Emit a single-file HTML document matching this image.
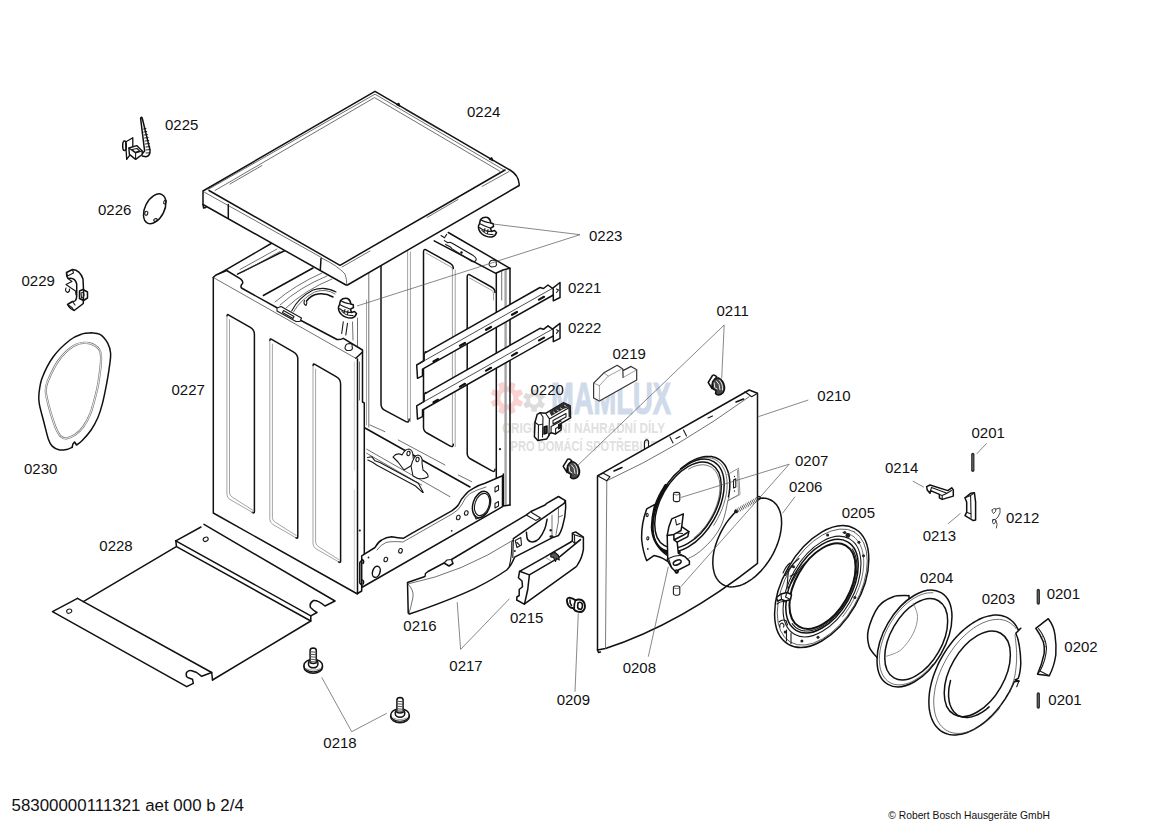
<!DOCTYPE html>
<html lang="cs">
<head>
<meta charset="utf-8">
<title>58300000111321 aet 000 b 2/4</title>
<style>
html,body{margin:0;padding:0;background:#fff;}
body{width:1170px;height:828px;overflow:hidden;position:relative;font-family:"Liberation Sans",sans-serif;}
svg{position:absolute;left:0;top:0;display:block;}
.lb{font-family:"Liberation Sans",sans-serif;font-size:15px;fill:#111;}
.k{fill:none;stroke:#111;stroke-width:1.5;stroke-linejoin:round;stroke-linecap:round;}
.m{fill:none;stroke:#1a1a1a;stroke-width:1.1;stroke-linejoin:round;stroke-linecap:round;}
.t{fill:none;stroke:#333;stroke-width:0.7;stroke-linejoin:round;stroke-linecap:round;}
.g{fill:none;stroke:#8a8a8a;stroke-width:0.8;stroke-linejoin:round;stroke-linecap:round;}
.ld{fill:none;stroke:#555;stroke-width:0.7;}
.w{fill:#fff;}
</style>
</head>
<body>
<svg width="1170" height="828" viewBox="0 0 1170 828">
<rect width="1170" height="828" fill="#fff"/>
<!-- WATERMARK -->
<g id="wm">
<path d="M518.4,399.3 L523.1,401.7 L521,406.8 L516,405.2 L514.1,407.1 L515.7,412.1 L510.6,414.2 L508.2,409.5 L505.6,409.5 L503.2,414.2 L498.1,412.1 L499.7,407.1 L497.8,405.2 L492.8,406.8 L490.7,401.7 L495.4,399.3 L495.4,396.7 L490.7,394.3 L492.8,389.2 L497.8,390.8 L499.7,388.9 L498.1,383.9 L503.2,381.8 L505.6,386.5 L508.2,386.5 L510.6,381.8 L515.7,383.9 L514.1,388.9 L516,390.8 L521,389.2 L523.1,394.3 L518.4,396.7Z M513.5,398 A6.6,6.6 0 1 0 500.3,398 A6.6,6.6 0 1 0 513.5,398Z" fill="#f9d2d2" fill-rule="evenodd"/>
<path d="M541.9,401.8 L545.1,404 L542.5,408.4 L539,406.8 L537,408 L536.7,411.8 L531.5,411.8 L531.2,408 L529.2,406.8 L525.7,408.4 L523.1,404 L526.3,401.8 L526.3,399.4 L523.1,397.2 L525.7,392.8 L529.2,394.4 L531.2,393.2 L531.5,389.4 L536.7,389.4 L537,393.2 L539,394.4 L542.5,392.8 L545.1,397.2 L541.9,399.4Z M538.3,400.6 A4.2,4.2 0 1 0 529.9,400.6 A4.2,4.2 0 1 0 538.3,400.6Z" fill="#dcdcdc" fill-rule="evenodd"/>
<text x="551" y="414.3" font-family="Liberation Sans, sans-serif" font-weight="bold" font-size="43.5" fill="#cfdaea" stroke="#cfdaea" stroke-width="1.1" textLength="120" lengthAdjust="spacingAndGlyphs">MAMLUX</text>
<text x="502" y="433.4" font-family="Liberation Sans, sans-serif" font-weight="bold" font-size="14.6" fill="#dfdfdf" textLength="163" lengthAdjust="spacingAndGlyphs">ORIGINÁLNÍ NÁHRADNÍ DÍLY</text>
<text x="510.5" y="450.6" font-family="Liberation Sans, sans-serif" font-weight="bold" font-size="14.6" fill="#dfdfdf" textLength="147.5" lengthAdjust="spacingAndGlyphs">PRO DOMÁCÍ SPOTŘEBIČE</text>
</g>
<!-- 0227 cabinet -->
<g id="p0227">
<path class="k" d="M448.3,232.5 L510,268.3 M434.2,240.8 L495.8,273.3 L503,270 L510,268.3" />
<path class="k" d="M496.3,273.3 L496.3,478 M510,268.3 L510,505" />
<path class="t" d="M501.7,271 L501.7,300" />
<path class="g" d="M505.6,270 L505.6,505" style="stroke-width:2.4;stroke:#a4a4a4;stroke-linecap:butt"/>
<path class="t" d="M368.8,268 L368.8,427" />
<path class="g" d="M366.5,300 L366.5,425" />
<path class="k" d="M381,266 L381,404 Q381,408.3 384.5,410.2 L405.5,421.4 Q409.2,423.3 409.2,419" />
<path class="g" d="M407.6,250 L407.6,420 M410.4,252 L410.4,421.5" style="stroke-width:0.55;stroke:#555"/>
<path class="k" d="M453.3,268.6 Q453.3,265.1 449.8,263.2 L427,250.3 Q423.5,248.3 423.5,251.8 L423.5,427.5 Q423.5,431 427,433 L449.8,445.9 Q453.3,447.8 453.3,444.3" />
<path class="g" d="M452.4,268 L452.4,445 M455.2,270 L455.2,446.5" style="stroke-width:0.55;stroke:#555"/>
<path class="g" d="M426,253 L451,267 Q452.6,268 452.6,270" />
<path class="k" d="M495,292.5 Q495,289 491.5,287 L470.7,275.3 Q467.2,273.3 467.2,276.8 L467.2,453.5 Q467.2,457 470.7,459 L491.5,470.7 Q495,472.7 495,469.2" />
<path class="g" d="M469.5,278 L492,290.5 Q493.5,291.5 493.5,294 L493.5,300" />
<path class="k" d="M503.3,474 L503.3,506 L510,505" />
<path class="m" d="M441,235.5 L444.5,237.8 L446.7,234.4 M444.4,240.6 L447.8,242.8 L450,242.2 L452.2,243.3 L473.3,255.6 Q477,258 476.1,259.8 Q475.5,262.3 472,261.5 L452.2,248.9 L450,246.7 L445.6,244.4" />
<circle cx="461.5" cy="252.5" r="1.2" fill="#111"/>
<path class="m" d="M489.5,262.5 Q488,265.5 491.5,267 L495,266.5 Q497.5,265 496,263 Q497.5,260.5 494,260 Q490,260 489.5,262.5 Z" />
<path class="k" d="M365,428 L470,487" />
<path class="t" d="M370,425 L385,431.7 M398.3,440 L445,465 M458.3,475 L471.7,481.7" />
<path class="t" d="M366.7,449.2 L450,496.7 M366.7,453.3 L421.7,485" />
<path class="m" d="M367.5,457.5 L371.7,456.7 L375,460.8 L380,462.5 L418.3,483.3 L423.3,492.5 M367.8,460 L372.5,462.3 L377,465.3 L415.5,486 L422.5,492.3" />
<circle cx="500" cy="449.2" r="1.1" fill="#222"/>
<path class="m w" d="M393,457 Q397,452 402,455 Q405,449 409,449 Q413,450 413,456 L414,464 L404,470 L398,462 Z" />
<path class="m w" d="M411,466 Q414,455 418,455 Q423,456 422,463 L423,470 Q429,474 428,477 Q420,481 413,476 Z" />
<ellipse class="m" cx="408.5" cy="453.5" rx="1.6" ry="2.2" transform="rotate(10 408.5 453.5)" />
<ellipse class="m" cx="417.5" cy="459.5" rx="1.6" ry="2.2" transform="rotate(10 417.5 459.5)" />
<path class="k" d="M214.2,276.7 L272,243" />
<path class="k" d="M237.5,274.2 L286,250" />
<path class="k" d="M263.3,295.5 L313,268" />
<path class="t" d="M217,277 L226,271.5 M240,269.5 L277,249 M243,272 L280,251.5" />
<path class="t" d="M275,302 Q295,285 322,273 M280,305 Q300,287 327,276 M286,308 Q305,290 332,279" />
<path class="m" d="M291.7,311 Q298,298 313,290 Q325,286 336,292" />
<path class="t" d="M293.5,312 Q300,300 314.5,292 Q326,288 335,294" />
<path class="k" d="M306.5,301 Q311,295 318,294 Q326,293 333,297" />
<path class="m" d="M304.5,300.5 Q303,304 306,305.5 Q307.5,303 306.5,301" />
<path class="m" d="M343.3,321.7 L341.7,333.5 M347.5,323.3 L345.8,335" />
<path class="t" d="M357.5,318 L357.5,348 M352.5,322 L353,340" />
<g transform="translate(346 308)">
<path class="k w" d="M-6.5,-3.5 L-5.5,-7.5 Q-2.5,-10.5 1.5,-9.5 Q4.5,-8 4.8,-4 L7.2,-3.3 L7.5,-0.5 L4.5,1.2 L5.5,4.5 L8.5,3.5 L10.5,5.5 Q9.5,9 6,10 Q0,10.5 -4.5,6.5 Q-8,3 -7.5,-1 Z" />
<path class="m" d="M-5.5,-7.5 Q-2,-5 4.8,-4 M-6.5,-3.5 Q-2,-1 4.5,1.2 M-6.5,0.5 Q-2,4.5 5.5,4.5 M-4,3.5 Q0,8 7,7.5 M-1,1.5 L-2,5 M2,2.5 L1.5,6.5" />
</g>
<path d="M213.3,277.5 L355.8,358.3 L357.5,359 L357.5,594 L213.3,513 Z" fill="#fff"/>
<path class="k" d="M213.3,277.5 L213.3,513 L357.5,594 L357.5,359" />
<path d="M226.7,270.5 L240.5,278.8 Q243.5,281 242.5,283.5 Q240,286 241.5,288 L245,290 L278.3,308.5 L337,339.5 Q340,340 343.3,338.3 L362.5,350 L362.5,352 L355.8,358.3 L213.3,277.5 L216,275 Z" fill="#fff"/>
<path class="k" d="M213.3,277.5 L216,275 L226.7,270.5 L240.5,278.8 Q243.5,281 242.5,283.5 Q240,286 241.5,288 L245,290 L278.3,308.5 L337,339.5 Q340,340 343.3,338.3 L362.5,350 L362.5,352 L355.8,358.3" />
<path class="t" d="M213.3,277.5 L355.8,358.3" />
<path class="m w" d="M277,308 L281,306.5 L301.5,318 L300,321.5 L296,321.5 L277,311 Z" />
<path class="m" d="M283.5,310.5 L294,316.5 L293,318.5 L282.5,312.5 Z" />
<path class="m" d="M345.5,346 Q344,349 347,350.5 L350.5,350.5 Q353.5,349 352,346.5 Q353,344 350,343.5 Q346,343.5 345.5,346 Z" />
<path class="k" d="M227,316.1 Q227,313.6 229.2,315.3 L249.9,327.2 Q254.4,329.8 254.4,334.3 L254.4,511.7 Q254.4,513.7 252.4,512.4" />
<path class="g" d="M226.9,317.1 L226.9,494.2 Q226.9,497.6 229.9,499.4 L252.9,512.7" style="stroke-width:0.6;stroke:#666"/>
<path class="g" d="M229.5,319.7 L229.5,492.6 Q229.5,495.6 232.5,497.3 L252.9,510.3" style="stroke-width:0.6;stroke:#666"/>
<path class="k" d="M269.9,340.5 Q269.9,338 272.1,339.7 L293.3,351.9 Q297.8,354.5 297.8,359 L297.8,537 Q297.8,539 295.8,537.7" />
<path class="g" d="M269.8,341.5 L269.8,519.2 Q269.8,522.6 272.8,524.4 L296.3,538" style="stroke-width:0.6;stroke:#666"/>
<path class="g" d="M272.4,344.1 L272.4,517.6 Q272.4,520.6 275.4,522.3 L296.3,535.6" style="stroke-width:0.6;stroke:#666"/>
<path class="k" d="M313.1,365.5 Q313.1,363 315.3,364.7 L336.1,376.7 Q340.6,379.3 340.6,383.8 L340.6,561.2 Q340.6,563.2 338.6,561.9" />
<path class="g" d="M313,366.5 L313,543.6 Q313,547 316,548.8 L339.1,562.1" style="stroke-width:0.6;stroke:#666"/>
<path class="g" d="M315.6,369.1 L315.6,542 Q315.6,545 318.6,546.7 L339.1,559.8" style="stroke-width:0.6;stroke:#666"/>
<path class="g" d="M354.3,362 L354.3,470 M354.3,490 L354.3,590" style="stroke-width:0.5;stroke:#999"/>
<path class="k" d="M362.5,352 L362.5,402 L364.3,403 L364.3,556" />
<path class="k" d="M357.5,593.5 L361.7,591 L361.7,587.5" />
<path class="t" d="M359.5,362 L359.5,400" />
<circle cx="359.8" cy="530.5" r="1.1" fill="#222"/>
<path class="k w" d="M361.7,555.8 L375,547.5 Q378,542 381.7,540 Q386,537 391.7,536.7 Q398,538 403.3,538.3 L411.7,533.3 L451.7,510.8 Q456,508 458.3,505 Q461,499 465,495 Q468,491 473.3,488.3 Q479,485 485,483.3 L502.5,475.8 L502.5,506.7 L361.7,587.5 Z" />
<path class="t" d="M377,550 Q381,544.5 386,542.5 Q392,541 403,542 L452,514 Q459,510 461.5,505 Q465,497 470,493.5 Q476,490 486,487" />
<ellipse class="k" cx="481.5" cy="504.5" rx="8.5" ry="13.5" transform="rotate(18 481.5 504.5)" />
<ellipse class="m" cx="482" cy="504.5" rx="7" ry="11.5" transform="rotate(18 482 504.5)" />
<path class="m" d="M474,514 L476,519 L479,518 M482,517.5 L484,515" />
<ellipse class="m" cx="458.3" cy="517.5" rx="1.8" ry="2.3" transform="rotate(15 458.3 517.5)" />
<ellipse class="m" cx="466.3" cy="513" rx="1.8" ry="2.3" transform="rotate(15 466.3 513)" />
<ellipse class="m" cx="400.5" cy="550.8" rx="1.8" ry="2.3" transform="rotate(15 400.5 550.8)" />
<ellipse class="m" cx="385.8" cy="559.5" rx="1.8" ry="2.3" transform="rotate(15 385.8 559.5)" />
<ellipse class="k" cx="376.3" cy="571.8" rx="3.7" ry="5.7" transform="rotate(18 376.3 571.8)" />
<circle cx="451.7" cy="530.8" r="0.9" fill="#222"/><circle cx="368.5" cy="557.5" r="0.9" fill="#222"/>
<path class="m" d="M495,487.5 L498.5,485.5 L498.5,490 L495,492 Z M495,503.5 L498.5,501.5 L498.5,506 L495,508 Z" />
<path class="k" d="M362,560 L359.8,562.5 L359.8,583 L362,585.5 M362.5,559.5 Q364.5,561 363,563.5 M362.5,580 Q364.5,581.5 363,584" />
<g transform="translate(486 227)">
<path class="k w" d="M-6.5,-3.5 L-5.5,-7.5 Q-2.5,-10.5 1.5,-9.5 Q4.5,-8 4.8,-4 L7.2,-3.3 L7.5,-0.5 L4.5,1.2 L5.5,4.5 L8.5,3.5 L10.5,5.5 Q9.5,9 6,10 Q0,10.5 -4.5,6.5 Q-8,3 -7.5,-1 Z" />
<path class="m" d="M-5.5,-7.5 Q-2,-5 4.8,-4 M-6.5,-3.5 Q-2,-1 4.5,1.2 M-6.5,0.5 Q-2,4.5 5.5,4.5 M-4,3.5 Q0,8 7,7.5 M-1,1.5 L-2,5 M2,2.5 L1.5,6.5" />
</g>
</g>
<!-- 0224 lid -->
<g id="p0224">
<path class="k w" d="M203,191 L375,91.3 L510,170 Q518.5,175 519.2,184 L519.2,185.5 L347.5,285 L346,285 L203,204.5 Z"/>
<path class="k" d="M209,190.5 L340,265.3 L505,170"/>
<path class="k" d="M228.3,204.5 L228.3,218 M321,258.5 L320.3,270"/>
<path class="t" d="M321.5,258 Q338,266 345,274 Q347,279 346.8,285"/>
<path class="t" d="M204.5,192.3 L321.5,257.5"/>
<path class="t" d="M208,189.5 L375,94.2 L505,170.6"/>
<path class="t" d="M215,190.5 L374.5,97.6 L500,171.3"/>
<path class="t" d="M342,267 L370,251 M427,217.5 L458,199.5 M482,186.5 L509,171.5"/>
<path class="t" d="M230,184 L262,165.5 M405,109.5 L440,130"/>
<path class="k" d="M203,204.5 L203.6,208 L206,207.5"/>
<path d="M396,104.5 L399,103 L400,106.5 Z M489,159 L492,157.5 L493,161 Z" fill="#111" stroke="#111" stroke-width="0.8"/>
</g>
<!-- 0221 / 0222 rails -->
<g id="p0221">
<g transform="translate(0 0)">
<path class="k w" d="M424.2,353.3 L540,287.5 L543.5,288.5 L548,285 L552.5,288.3 L560,282.5 L560,297.5 L553.3,300.8 L553.3,295 L422.5,369.2 L422.5,375.8 L417.5,378.3 L416.7,365 L424.2,360.5 Z" />
<path class="t" d="M416.7,365 L552.5,288.3" style="stroke:#222;stroke-width:0.8"/>
<path class="k" d="M553.2,288.7 L553.2,295" />
<path class="t" d="M424.2,360.5 L424.2,353.3" />
<path class="m" d="M556.5,289 L558.5,290 L556.5,292.5" />
<path class="k" d="M433.5,361.5 L438,359 M460,345.8 L465,343 M486,329.8 L491,327 M512,314.8 L517,312 M539,299.6 L544,296.8" style="stroke-width:2.2"/>
<circle cx="425.5" cy="352" r="1" fill="#111"/>
</g>
<g transform="translate(0 40.8)">
<path class="k w" d="M424.2,353.3 L540,287.5 L543.5,288.5 L548,285 L552.5,288.3 L560,282.5 L560,297.5 L553.3,300.8 L553.3,295 L422.5,369.2 L422.5,375.8 L417.5,378.3 L416.7,365 L424.2,360.5 Z" />
<path class="t" d="M416.7,365 L552.5,288.3" style="stroke:#222;stroke-width:0.8"/>
<path class="k" d="M553.2,288.7 L553.2,295" />
<path class="t" d="M424.2,360.5 L424.2,353.3" />
<path class="m" d="M556.5,289 L558.5,290 L556.5,292.5" />
<path class="k" d="M433.5,361.5 L438,359 M460,345.8 L465,343 M486,329.8 L491,327 M512,314.8 L517,312 M539,299.6 L544,296.8" style="stroke-width:2.2"/>
<circle cx="425.5" cy="352" r="1" fill="#111"/>
</g>
</g>
<!-- 0228 base plate -->
<g id="p0228">
<path class="k" d="M201,527 L175.8,540.8 M204,524.4 L335,601 L325,606 Q318,600 313.5,600.5 Q309,603 310.5,607.5 Q314,611 317,612.5 L310.8,615.8" />
<path class="k" d="M175.8,540.8 L310.8,615.8 L310.8,621" />
<path class="k" d="M175.8,540.8 L176.5,546.7 L310.8,621 L212.5,680 M176.3,546.7 L83.3,601.7" />
<path class="k" d="M77.5,598.3 L52.5,611.7 L186.7,686.7 L193.3,683.3 L192.5,679.2 Q187.5,678 186.7,676.7 Q185.5,673.5 187,672 Q189,670 191.7,670.8 L196.7,672.5 L201.7,676.3 L211.7,672.5" />
<path class="k" d="M77.5,598.3 L211.7,672.5 L212.5,680" />
<ellipse class="m" cx="205.7" cy="539.3" rx="2.6" ry="2" transform="rotate(-30 205.7 539.3)" />
<ellipse class="m" cx="69.2" cy="611.2" rx="2.6" ry="2" transform="rotate(-20 69.2 611.2)" />
</g>
<!-- 0230 gasket -->
<g id="p0230">
<path class="k" d="M91.1,332.8 C92.6,333.1 97.2,332.6 100,334.4 C102.8,336.1 106,340.1 107.8,343.3 C109.6,346.5 110.3,349.4 110.6,353.3 C110.9,357.2 110.1,361.7 109.4,366.7 C108.8,371.7 107.9,377 106.7,383.3 C105.5,389.6 103.7,398.6 102.2,404.4 C100.7,410.1 99.7,413.5 97.8,417.8 C95.9,422.1 93.7,426.2 91.1,430 C88.5,433.8 84.6,438.1 82.2,440.6 C79.8,443.1 77.5,444.3 76.5,445 L74.6,442 L72.9,444 L72.2,447.2" />
<path class="k" d="M72.2,447.2 C71.3,447.6 68.9,449 66.7,449.4 C64.5,449.8 61.3,450.4 58.9,449.8 C56.5,449.2 54,447.9 52.2,446.1 C50.4,444.3 49.7,442.9 48.3,438.9 C46.9,434.9 45.4,427.9 43.9,422.2 C42.4,416.4 40.2,409 39.4,404.4 C38.6,399.8 38.4,398.8 38.9,394.4 C39.4,390 39.8,384.1 42.2,377.8 C44.6,371.5 48.7,363 53.3,356.7 C57.9,350.4 65.2,343.8 70,340 C74.8,336.2 78.7,335.1 82.2,333.9 C85.7,332.7 89.6,333 91.1,332.8" />
<path class="g" d="M86.7,342.8 C90.8,343.1 95.4,345.3 97.8,347.8 C100.2,350.3 101,351.9 101.1,357.8 C101.2,363.7 99.4,376.3 98.3,383.3 C97.2,390.3 95.8,394.8 94.4,400 C93,405.2 91.8,409.9 90,414.4 C88.2,418.8 85.7,423.4 83.3,426.7 C80.9,430 78.4,432.5 75.6,434.4 C72.8,436.3 69.1,437.9 66.7,438.3 C64.3,438.7 62.8,438.1 61.1,436.7 C59.4,435.3 58,432.6 56.7,430 C55.4,427.4 54.8,425.7 53.3,421.1 C51.8,416.5 49,407.2 47.8,402.2 C46.5,397.2 45.8,394.6 45.8,391.1 C45.8,387.6 45.6,386.3 47.8,381.1 C50,375.9 54.6,365.8 58.9,360 C63.1,354.2 68.7,349 73.3,346.1 C77.9,343.2 82.6,342.5 86.7,342.8Z" style="stroke-width:2.2;stroke:#777"/>
<path class="g" d="M86.7,342.8 C90.8,343.1 95.4,345.3 97.8,347.8 C100.2,350.3 101,351.9 101.1,357.8 C101.2,363.7 99.4,376.3 98.3,383.3 C97.2,390.3 95.8,394.8 94.4,400 C93,405.2 91.8,409.9 90,414.4 C88.2,418.8 85.7,423.4 83.3,426.7 C80.9,430 78.4,432.5 75.6,434.4 C72.8,436.3 69.1,437.9 66.7,438.3 C64.3,438.7 62.8,438.1 61.1,436.7 C59.4,435.3 58,432.6 56.7,430 C55.4,427.4 54.8,425.7 53.3,421.1 C51.8,416.5 49,407.2 47.8,402.2 C46.5,397.2 45.8,394.6 45.8,391.1 C45.8,387.6 45.6,386.3 47.8,381.1 C50,375.9 54.6,365.8 58.9,360 C63.1,354.2 68.7,349 73.3,346.1 C77.9,343.2 82.6,342.5 86.7,342.8Z" style="stroke-width:0.9;stroke:#fff"/>
</g>
<!-- small parts left: 0225 0226 0229 0218 -->
<g id="small_left">
<path class="k" d="M125.6,142 L132.8,137.8 L132.8,151 L126.7,159.4 Z" style="stroke-width:1.3"/>
<ellipse class="k" cx="124.5" cy="145.8" rx="1.8" ry="4.8" transform="rotate(0 124.5 145.8)" />
<path class="k w" d="M128.9,148 L136.7,145.6 L142.2,151 L142.2,154.5 L135.6,159.4 L129.4,154.4 Z" style="stroke-width:1.4"/>
<path class="m" d="M128.9,148 L135.6,153 L142.2,151 M135.6,153 L135.6,159.4 M132,149.5 L137,148.5 L139.5,151 L135,152.2 Z" />
<path class="k" d="M140.6,118.3 Q141.3,116.5 142.2,118 L150,150 Q150.5,156 146,156.8 L142.2,156 M140.6,118.3 L144.6,151 L142.5,153.5" />
<path class="t" d="M143.5,129 L146,128.5 M143.8,132 L146.7,131.5 M144.2,135 L147.4,134.5 M144.6,138 L148.1,137.5 M145,141 L148.8,140.5 M145.4,144 L149.3,143.5 M145.8,147 L149.8,146.5 M146,150 L150,149.5 M146,153 L149.6,152.8" style="stroke:#111;stroke-width:0.9"/>
<ellipse class="k" cx="154.7" cy="208.8" rx="9.6" ry="16" transform="rotate(27 154.7 208.8)" />
<ellipse class="m" cx="165" cy="202" rx="1.2" ry="2" transform="rotate(20 165 202)" />
<ellipse class="m" cx="146.3" cy="213.3" rx="1.5" ry="2" transform="rotate(20 146.3 213.3)" />
<ellipse class="m" cx="155.5" cy="220" rx="1.8" ry="1.3" transform="rotate(-20 155.5 220)" />
<path class="k" d="M66.5,272.5 L72.5,269.5 Q80,270 83,279 Q84,290 83.3,303.5 L74.2,310.5 Q70,309 67.5,304.5 L72.5,301.5 Q76.5,302 76.7,296 L76.7,284 Q75,277 68,278.5 L66.7,275.8 Z" />
<path class="m" d="M66.5,272.5 L67.5,276 L73.5,273 L72.5,269.5 M67.5,304.5 L72,307.5 L74.2,310.5 M72.5,301.5 L75,305 M68,278.5 L72,281.5 L66,284.5 L71,288 M66,288 Q64.5,291 67.5,292.5 Q70,291.5 69.5,289 M71,288 L75.5,291 L76,295" />
<path class="k" d="M79.5,291 L83,289.5 L87.5,292 L87.5,298 L83.5,300.5 L79.5,298.5 Z" />
<path class="m" d="M81,293 Q83.5,291.5 84,294.5 Q84,298 81.5,298 Z" />
<g transform="translate(313.2 667.3)">
<path class="k w" d="M-9.3,-1.7 A9.3,6.3 0 0 1 9.3,-1.7 L9.3,-0.3 A9.3,6.3 0 0 1 -9.3,-0.3 Z" />
<path class="m" d="M-9.3,-1.7 A9.3,6.3 0 0 0 9.3,-1.7" />
<path class="t" d="M-6.5,1.5 Q0,4.5 6.5,1.5" style="stroke:#777"/>
<path class="k w" d="M-4.7,-4.2 A4.7,3.5 0 0 1 4.7,-4.2 L4.7,-3 A4.7,3.5 0 0 1 -4.7,-3 Z" />
<path class="k w" d="M-3.1,-4.5 L-3.1,-16.8 Q-3,-19.1 0,-19.2 Q3,-19.1 3.1,-16.8 L3.1,-4.5 Q0,-3 -3.1,-4.5 Z" />
<path class="m" d="M-3,-15.5 L3,-15 M-3,-13 L3,-12.5 M-3,-10.5 L3,-10 M-3,-8 L3,-7.5 M-3,-5.8 L3,-5.3" style="stroke:#555"/>
</g>
<g transform="translate(400 716.7)">
<path class="k w" d="M-9.3,-1.7 A9.3,6.3 0 0 1 9.3,-1.7 L9.3,-0.3 A9.3,6.3 0 0 1 -9.3,-0.3 Z" />
<path class="m" d="M-9.3,-1.7 A9.3,6.3 0 0 0 9.3,-1.7" />
<path class="t" d="M-6.5,1.5 Q0,4.5 6.5,1.5" style="stroke:#777"/>
<path class="k w" d="M-4.7,-4.2 A4.7,3.5 0 0 1 4.7,-4.2 L4.7,-3 A4.7,3.5 0 0 1 -4.7,-3 Z" />
<path class="k w" d="M-3.1,-4.5 L-3.1,-16.8 Q-3,-19.1 0,-19.2 Q3,-19.1 3.1,-16.8 L3.1,-4.5 Q0,-3 -3.1,-4.5 Z" />
<path class="m" d="M-3,-15.5 L3,-15 M-3,-13 L3,-12.5 M-3,-10.5 L3,-10 M-3,-8 L3,-7.5 M-3,-5.8 L3,-5.3" style="stroke:#555"/>
</g>
</g>
<!-- 0216 / 0215 / 0217 kick plate -->
<g id="p0216">
<path class="k w" d="M407.5,582.5 L425,576.5 L425.5,573.5 L428,571.5 L444,563 L449,566 L453,563.5 L451.5,559.5 L526,515.2 L530.9,511.5 L545.1,505 L546.7,503.4 L558.5,496.5 L565.4,500.6 Q566.5,514 562.5,526.5 Q560.5,533 558.5,535.5 L552,537.9 L514.6,557.2 Q511,566 506.7,570 Q493,579.5 475,588.3 Q450,600 409.5,614 Q408,613.5 408.2,612 Z" />
<path class="t" d="M408.5,583.8 Q462,573 513.3,540" />
<path class="m" d="M513.3,540 L511.8,542 Q512,556 509.2,566.7" />
<path class="t" d="M408,584 Q414,590 413,597 Q411,607 409,613.5" />
<path class="m" d="M444,563 L447,560 L451.5,559.5" />
<path class="k" d="M513.4,538.7 L564.1,503.4 L565.4,500.6" />
<path class="m" d="M526.8,515.2 L535.7,520.4 L540.6,518 L531.5,512.5" />
<path class="k" d="M526.4,532.2 C526.6,533.4 526.6,537.9 527.6,539.5 C528.6,541.1 530.6,542.1 532.5,542 C534.4,541.9 537,540.9 539,538.7 C541,536.5 543.4,532.2 544.7,529 C546.1,525.8 546.7,520.8 547.1,519.2" />
<path class="m" d="M513.4,538.7 L512.8,557.5" />
<path class="t" d="M552,515.2 L552,535.5 M558.5,508.7 Q559.5,522 556,534.5 M558.8,517 L562.5,515.5" />
<circle cx="550.7" cy="530.2" r="1.2" fill="#222"/><ellipse cx="551.5" cy="536.6" rx="2.2" ry="1.3" fill="#222"/>
<path class="m" d="M515.2,540.5 L520.8,537.6 L521.5,545 L517,547.5 Z M517,542.5 L519.3,544.8" />
<circle cx="514.8" cy="551" r="1" fill="#222"/>
<path class="k w" d="M519.6,571.3 L544.8,557.1 L553.7,551.8 L570,542.5 L572.4,541 L572.4,533.1 L575.6,531.9 L583.4,537.2 L583.4,549.4 Q582,558 578,564 Q577,566 575.6,567.2 L524.2,604.2 L516.7,600 L516.9,597 L519.2,595.5 L519.2,589.5 L522.5,586.7 L522,581 L518.4,577.8 Z" />
<path class="k" d="M519.6,571.3 L529.4,574.9 Q528.5,590 524.5,604" />
<path class="k" d="M529.4,574.9 L553.7,560.7 L560.2,556.3 L580.5,539.6" />
<path class="m" d="M572.4,541 L574.8,543.7 L574.4,534.7 M574.8,543.7 L580.5,539.6 M572.4,533.1 L574.4,534.7 L583,537.5" />
<path class="k" d="M550.8,554 L555,552.3 L558.5,555.5 L559.3,560 L556.5,558.5 L555.5,561.5 L553.5,557.5 L550.8,557 Z" style="fill:#555;stroke-width:1.1"/>
<path class="t" d="M545,557.3 L550.5,560.5" style="stroke:#777"/>
<path class="k w" d="M567,601.5 Q566.5,598 569.5,597.6 Q573,598.2 575.5,600.3 L578,599.5 Q582.5,599 584.3,603 Q586,607.5 583.5,610.5 Q581,613 577.5,611.5 Q574.5,611 573.5,608.2 L570.5,607.5 Q567.5,605.5 567,601.5 Z" style="stroke-width:1.9"/>
<path class="k" d="M575.5,600.3 Q573.8,604 574.2,608.5 M578,602.8 Q580.5,601.2 582.3,604 Q583,607.5 581,609.3 Q578.3,609.8 577.6,607 Z M570,600 Q569.5,603 571.5,605.5" style="stroke-width:1.6"/>
</g>
<!-- 0210 front panel, 0211 hinges, 0208, 0207, 0219, 0220 -->
<g id="p0210">
<path d="M593.6,383.1 L603.9,372.8 L617.2,365.3 L622.8,368.9 L623,370.6 L631.1,366.4 L636.7,369.7 L636.7,380 L599.4,401 L593.6,398 Z" fill="#fff"/>
<path class="m" d="M593.6,383.1 L603.9,372.8 L617.2,365.3 L622.8,368.9 L623.1,377.4 M623,370.6 L631.1,366.4 L636.7,369.7 L636.7,380 L599.4,401 L593.6,398 L593.6,383.1" style="stroke:#333;stroke-width:1.2"/>
<path class="t" d="M593.6,383.1 L599.4,385.6 L599.4,401 M599.4,385.6 L608.3,376.1 L621.1,369.4 M603.9,372.8 L608.3,376.1 M623.3,377.4 L636,370.3" style="stroke:#777"/>
<path class="k w" d="M597.5,475.8 L749.2,390 L757.5,393.3 L757.5,563.3 Q681.5,623.5 605.5,648.5 L597.5,650 Z" />
<path class="m" d="M606.8,480.8 L605.5,648.3" style="stroke:#6a6a6a;stroke-width:0.9"/>
<path class="t" d="M606.7,480.8 Q678.6,447.8 749.2,396.7" />
<path class="m" d="M597.5,475.8 L603.3,473.3 L610,476.7 L606.7,480.8 Z M745,391.7 L751.7,396.7 L757.5,393.3" />
<path class="k" d="M597.5,650 L598.5,652.5 L600.5,652" />
<path class="k" d="M614,471 L622,467.5 M736,402 L743.5,399" style="stroke-width:1.6"/>
<path class="m" d="M670,437 L673,443 M683.5,430 L686.5,436 M676,438.5 L680,436.5 M708,418 L712.5,416" />
<path class="m" d="M644.5,449 L644.5,441.5 Q646.5,438.5 648.5,441 L648.5,447" />
<path class="k" d="M680.4,469.1 L682.1,467.7 L683.8,466.3 L685.5,465 L687.2,463.8 L688.9,462.7 L690.6,461.7 L692.3,460.8 L694,459.9 L695.7,459.1 L697.4,458.5 L699.1,457.9 L700.8,457.4 L702.4,457 L704,456.7 L705.6,456.5 L707.2,456.4 L708.7,456.4 L710.2,456.4 L711.7,456.6 L713.1,456.9 L714.5,457.3 L715.8,457.7 L717.1,458.3 L718.3,459 L719.5,459.7 L720.7,460.5 L721.7,461.5 L722.7,462.5 L723.7,463.6 L724.6,464.7 L725.4,466 L726.2,467.3 L726.8,468.7 L727.5,470.2 L728,471.8 L728.5,473.4 L728.9,475.1 L729.2,476.8 L729.5,478.6 L729.7,480.5 L729.8,482.4 L729.8,484.4 L729.8,486.3 L729.7,488.4 L729.5,490.5 L729.2,492.6 L728.9,494.7 L728.5,496.8" />
<path class="t" d="M729,497.3 C728.7,498.2 728.1,500.2 727.4,503 C726.7,505.8 726.1,510.1 725,514 C723.9,518 722.7,522.5 720.6,526.7 C718.5,530.9 715.5,535.3 712.5,539 C709.5,542.7 705.7,546.2 702.8,548.9 C699.9,551.6 697.6,553.3 695,555 C692.4,556.7 688.5,558.2 687.2,558.9" />
<path class="t" d="M692.9,461 L694.7,460.2 L696.5,459.5 L698.3,458.9 L700.1,458.4 L701.8,458 L703.6,457.8 L705.3,457.6 L706.9,457.6 L708.5,457.7 L710.1,457.9 L711.6,458.2 L713.1,458.7 L714.5,459.2 L715.8,459.9 L717.1,460.7 L718.3,461.6 L719.5,462.6 L720.5,463.7 L721.6,464.9 L722.5,466.2 L723.3,467.6 L724.1,469.1 L724.8,470.7 L725.4,472.3 L725.9,474.1 L726.3,475.9 L726.6,477.8 L726.9,479.8 L727,481.8 L727.1,483.9 L727.1,486 L727,488.2 L726.7,490.4 L726.5,492.7 L726.1,495 L725.6,497.3 L725,499.7 L724.4,502 L723.7,504.4 L722.9,506.8 L722,509.2 L721,511.5 L720,513.9 L718.8,516.2 L717.7,518.5 L716.4,520.8 L715.1,523.1 L713.7,525.3" />
<ellipse class="k" cx="688.3" cy="505.5" rx="50.7" ry="29.3" transform="rotate(-60 688.3 505.5)" />
<ellipse class="k" cx="688" cy="505" rx="47" ry="27.2" transform="rotate(-60 688 505)" />
<path class="k" d="M679.1,552.1 L677.5,552.5 L675.9,552.8 L674.3,553 L672.8,553.1 L671.3,553.1 L669.8,553 L668.4,552.7 L667,552.4 L665.6,552 L664.3,551.5 L663.1,550.9 L661.9,550.2 L660.8,549.4 L659.7,548.5 L658.7,547.5 L657.8,546.4 L656.9,545.3 L656.1,544 L655.3,542.7 L654.7,541.3 L654.1,539.8 L653.5,538.3 L653.1,536.6 L652.7,535 L652.4,533.2 L652.2,531.4 L652,529.5 L652,527.6 L652,525.7 L652.1,523.7 L652.2,521.6 L652.5,519.5 L652.8,517.4 L653.2,515.3 L653.7,513.2 L654.2,511 L654.9,508.8 L655.5,506.6 L656.3,504.5 L657.1,502.3 L658,500.1 L659,497.9 L660,495.8 L661.1,493.7 L662.3,491.6 L663.5,489.5 L664.7,487.5 L666,485.5" style="stroke-width:3.4"/>
<path class="t" d="M688.6,469.1 L690.5,468.1 L692.5,467.1 L694.4,466.4 L696.3,465.8 L698.1,465.3 L700,465 L701.7,464.8 L703.5,464.8 L705.2,465 L706.8,465.3 L708.3,465.8 L709.8,466.4 L711.2,467.1 L712.5,468 L713.7,469.1 L714.8,470.3 L715.8,471.6 L716.7,473.1 L717.5,474.6 L718.2,476.3 L718.8,478.1 L719.3,480 L719.6,482 L719.8,484.1 L719.9,486.3 L719.9,488.5 L719.8,490.8 L719.5,493.2 L719.2,495.6 L718.7,498.1 L718.1,500.5 L717.4,503 L716.6,505.5 L715.6,508 L714.6,510.5 L713.5,513 L712.2,515.4 L710.9,517.8 L709.5,520.2 L708,522.5 L706.5,524.7 L704.9,526.9 L703.2,528.9 L701.4,530.9 L699.6,532.8 L697.8,534.6 L695.9,536.3 L694,537.8" />
<path class="k w" d="M655,504.4 L646.7,508.9 Q641,524 641.7,540 Q643,552 646.7,560.6 L653.9,555.6 Q660,556.5 667.2,561.1 L668,556 Q652,545 651.5,527 Q652,514 655,504.4 Z" />
<ellipse class="m" cx="647.2" cy="515" rx="1" ry="1.6" transform="rotate(10 647.2 515)" />
<ellipse class="m" cx="647.8" cy="538.3" rx="1" ry="1.6" transform="rotate(10 647.8 538.3)" />
<circle cx="647.8" cy="548.9" r="0.9" fill="#222"/>
<path class="g" d="M727.5,474.5 L738.5,468.3 L740,494.5 L727.5,501 M729,500 L738.5,494.8 L737.5,470.5" style="stroke:#777"/>
<path class="m" d="M733.5,480 L735.8,478.8 L735.8,487 L733.5,488 Z" />
<circle cx="734.5" cy="476.5" r="0.7" fill="#222"/><circle cx="734.5" cy="491" r="0.7" fill="#222"/>
<rect class="m w" x="673.4" y="492.4" width="6.4" height="9.2" rx="2" ry="1.6"/>
<path class="t" d="M673.4,494.4 Q676.6,495.8 679.8000000000001,494.4" />
<rect class="m w" x="673.4" y="586.0" width="6.4" height="9.2" rx="2" ry="1.6"/>
<path class="t" d="M673.4,588.0 Q676.6,589.4 679.8000000000001,588.0" />
<path class="k w" d="M671.7,518.9 L683.3,513.9 L681.7,526.7 L688.9,531.7 L687.8,536.7 L677.2,542.2 L678.3,553.3 L685,556.7 L689.4,561.1 L689.4,564.4 L678.3,570 L676.7,572.8 L673.9,570 L671.7,567.8 L667.8,561.1 L667.2,535.6 L668.9,526.7 Z" />
<path class="k" d="M673.9,540 L673.9,534.4 L667.2,535.6 M673.9,534.4 L681,530.5 L681.7,526.7 M673.9,540 L677.2,542.2 M673.9,540 L683.5,535 L688.9,531.7" />
<path class="m" d="M675.5,519.5 L676.5,525 L680,523.5 M677,533 L682.5,533.5 M671.7,567.8 L668.5,558.5 Q678,553.5 685,556.7" />
<ellipse class="k" cx="677.2" cy="562.5" rx="4.2" ry="2.2" transform="rotate(-25 677.2 562.5)" />
<ellipse class="k" cx="676.7" cy="571.5" rx="1.5" ry="1.5" transform="rotate(0 676.7 571.5)" />
<path class="k w" d="M537.2,414.4 L540,412.8 L545.6,413.3 L563.3,402.8 L570,405.6 L570.6,417.8 L561.1,423.3 L561.1,430 L555.6,433.9 L551.1,432.8 L549.2,434 L548.9,435.6 L546.7,438.9 L537.8,440.6 L534.4,436.7 L535,422.2 Z" />
<path class="m" d="M545.6,413.3 L549.4,418.9 L548.9,435.6 M549.4,418.9 L570.3,407 M540,412.8 L543,417 L542.5,437 M535,422.2 L538.5,425 L543,424 M538.5,425 L538.3,439.5" />
<path class="m" d="M553,420.5 L566,413.5 L566,417 L553,424 Z M551.1,426.5 L561.1,421 M551.1,432.8 L551.1,426.5 M555.6,433.9 L555.6,428.5 L561.1,425.5" />
<path d="M549.4,412 L563.3,402.6 L570.4,405.6 L570.5,416.5 L568.6,417.6 L568.3,407.6 L563.9,408.8 L551.3,415.9 Z" fill="#2e2e2e"/>
<path class="t" d="M553.5,412 L555,413 M557,410 L558.5,411 M560.5,408 L562,409 M564.5,405.3 L566,406.3" style="stroke:#ddd;stroke-width:0.9"/>
<path class="k" d="M544,427 L547,426 L547,433 L544,434 Z" style="fill:#333"/>
<path class="m" d="M558.5,424.5 L560.5,423.5 L560.5,428 L558.5,429 Z" style="fill:#222"/>
<g transform="translate(717.5 385.5)">
<path class="k w" d="M-9.3,-3 L-5,-10 Q-4,-10.8 -2.8,-10.2 L-0.8,-8.8 L-5.3,-1.3 L-5.5,3 Z" />
<path class="k" d="M-5,-3.5 Q-2.5,-8 1,-7.5 Q6,-5 7,1 Q7.5,6 4,8.5 Q0,10.5 -2,8 L-1.5,5 L-5,3 Z" style="fill:#4a4a4a"/>
<path class="t" d="M-3.3,-2.5 L-2.8,2 L-0.5,3.5 M-1,-4.5 Q2.5,-2 2.5,4 M2,-5.5 Q5.5,-2 5,4.5" style="stroke:#e8e8e8;stroke-width:1"/>
</g>
<g transform="translate(572.5 469.4)">
<path class="k w" d="M-9.3,-3 L-5,-10 Q-4,-10.8 -2.8,-10.2 L-0.8,-8.8 L-5.3,-1.3 L-5.5,3 Z" />
<path class="k" d="M-5,-3.5 Q-2.5,-8 1,-7.5 Q6,-5 7,1 Q7.5,6 4,8.5 Q0,10.5 -2,8 L-1.5,5 L-5,3 Z" style="fill:#4a4a4a"/>
<path class="t" d="M-3.3,-2.5 L-2.8,2 L-0.5,3.5 M-1,-4.5 Q2.5,-2 2.5,4 M2,-5.5 Q5.5,-2 5,4.5" style="stroke:#e8e8e8;stroke-width:1"/>
</g>
</g>
<!-- 0206 ring + 0207 spring -->
<g id="p0206">
<path class="k" d="M758.4,498.5 L760.6,498.2 L762.8,498.1 L764.9,498.3 L767,498.6 L768.9,499.2 L770.7,500 L772.4,501 L774,502.2 L775.4,503.6 L776.7,505.1 L777.9,506.9 L778.9,508.9 L779.8,511 L780.5,513.3 L781,515.7 L781.4,518.2 L781.5,520.9 L781.6,523.7 L781.4,526.5 L781.1,529.5 L780.6,532.5 L780,535.5 L779.2,538.6 L778.2,541.8 L777.1,544.9 L775.8,548 L774.4,551.1 L772.9,554.1 L771.2,557.1 L769.4,560 L767.5,562.8 L765.5,565.5 L763.4,568.1 L761.3,570.6 L759,572.9 L756.7,575.1 L754.4,577.2 L752,579 L749.6,580.7 L747.2,582.2 L744.8,583.5 L742.4,584.6 L740,585.5 L737.7,586.1 L735.4,586.6 L733.1,586.8 L731,586.9 L728.9,586.7 L726.9,586.3 L725,585.6 L723.2,584.8 L721.5,583.7 L720,582.5 L718.6,581 L717.3,579.4 L716.2,577.6 L715.2,575.6 L714.4,573.4 L713.8,571.1 L713.3,568.6 L713,566 L712.8,563.3 L712.9,560.5 L713,557.7 L713.4,554.7 L713.9,551.7 L714.6,548.6 L715.5,545.5 L716.5,542.4 L717.7,539.3 L719,536.2 L720.4,533.1 L722,530.1 L723.7,527.1 L725.5,524.2 L727.4,521.4 L729.5,518.7 L731.6,516.2 L733.8,513.7 L736,511.4" />
<path class="m" d="M736,511.4 L758.4,498.5" style="stroke-width:4.4;stroke:#4a4a4a;stroke-dasharray:0.8 1.1;stroke-linecap:butt"/>
<circle cx="736" cy="511.4" r="1.9" fill="#1a1a1a"/>
<circle class="m" cx="758.9" cy="498" r="1.6"/>
</g>
<!-- 0205 door frame -->
<g id="p0205">
<ellipse class="k w" cx="821.7" cy="586.6" rx="66.6" ry="38.5" transform="rotate(-60 821.7 586.6)" />
<ellipse class="t" cx="822.3" cy="587" rx="63.7" ry="36.8" transform="rotate(-60 822.3 587)" />
<ellipse class="m" cx="822" cy="586.6" rx="55.1" ry="31.8" transform="rotate(-60 822 586.6)" />
<ellipse class="k" cx="822" cy="586.2" rx="51.2" ry="29.6" transform="rotate(-60 822 586.2)" />
<ellipse class="k" cx="822.5" cy="586.2" rx="46.8" ry="27" transform="rotate(-60 822.5 586.2)" style="stroke-width:2"/>
<path class="m" d="M852.2,549 L853.3,550.7 L854.2,552.5 L855,554.5 L855.7,556.6 L856.2,558.9 L856.5,561.3 L856.8,563.7 L856.8,566.3 L856.8,569 L856.5,571.7 L856.2,574.5 L855.7,577.3 L855,580.2 L854.2,583.1 L853.3,586.1 L852.2,589 L851,591.9 L849.7,594.8 L848.2,597.6 L846.7,600.4 L845,603.2 L843.3,605.9 L841.4,608.4 L839.5,610.9 L837.5,613.3 L835.5,615.6 L833.3,617.7 L831.2,619.8 L829,621.6 L826.7,623.3 L824.5,624.9 L822.2,626.3 L819.9,627.5 L817.7,628.6 L815.4,629.4 L813.2,630.1 L811.1,630.6 L808.9,630.9 L806.9,631 L804.9,630.9 L803,630.7 L801.1,630.2 L799.4,629.6 L797.7,628.7 L796.2,627.7 L794.7,626.5 L793.4,625.2 L792.2,623.6" />
<path class="t" d="M842.7,532.5 L844.3,532.7 L845.8,533 L847.3,533.4 L848.7,533.9 L850.1,534.5 L851.4,535.2 L852.7,536 L853.9,536.8 L855,537.8 L856.1,538.9 L857.1,540.1 L858.1,541.3 L859,542.7 L859.8,544.1 L860.5,545.6 L861.2,547.2 L861.8,548.9 L862.3,550.6 L862.7,552.4 L863.1,554.3 L863.3,556.2 L863.5,558.2 L863.7,560.3 L863.7,562.4 L863.7,564.5 L863.5,566.7 L863.3,568.9 L863.1,571.1 L862.7,573.4 L862.3,575.7 L861.8,578.1 L861.2,580.4 L860.5,582.8 L859.8,585.1 L859,587.5 L858.1,589.8 L857.1,592.2 L856.1,594.6 L855,596.9 L853.9,599.2 L852.7,601.5 L851.4,603.7 L850.1,606 L848.7,608.2 L847.3,610.3 L845.8,612.4 L844.3,614.5 L842.7,616.5" />
<path class="m" d="M788.5,569.7 L786.9,588.4 M790.2,576.2 L797.5,572.2 L788.5,587.6 M788.5,569.7 Q793,563 799,558.5 M797.5,572.2 Q801,566.5 806,562" />
<circle cx="827.6" cy="535" r="1.5" fill="#222"/>
<circle cx="844.7" cy="532.5" r="1.5" fill="#222"/>
<circle cx="793.5" cy="566.7" r="1.5" fill="#222"/>
<circle cx="858.9" cy="542.2" r="1.5" fill="#222"/>
<circle cx="863.5" cy="555.7" r="1.5" fill="#222"/>
<circle cx="854.9" cy="597.4" r="1.5" fill="#222"/>
<circle cx="818" cy="637.2" r="1.5" fill="#222"/>
<circle cx="801.9" cy="641" r="1.5" fill="#222"/>
<circle cx="785.2" cy="632" r="1.5" fill="#222"/>
<circle cx="847.9" cy="535.5" r="2.4" fill="#222"/>
<path class="k w" d="M776.5,597.5 L781,594 L787,592.5 L791.5,594.5 L790.5,599.5 L785.5,601 L781.5,599.5 L777.5,601 Z" />
<path class="m" d="M781,594 L781.5,599.5 M787,592.5 L785.5,597 L790.5,599.5" />
<path class="m" d="M777,604 Q781,600.5 786,602 M779,622 Q782,619 786,620.5 L787.5,625 M780,627 Q779,624 782,623 Q785,624.5 783.5,627" />
<path class="m" d="M783,573 Q786,566 790,563 M785.5,575.5 Q788.5,569 792.5,565.5 M786.5,630 L786.5,641 M791,633 L791,643.5" />
</g>
<!-- 0204 door glass -->
<g id="p0204">
<path class="k w" d="M909,595.6 C906.4,595.8 898.4,594.9 893.3,596.7 C888.2,598.6 882.5,601.2 878.3,606.7 C874.1,612.2 869.8,623.3 868.3,630 C866.8,636.7 867.7,642 869.2,646.7 C870.7,651.4 876.1,656.1 877.5,658 L910,640 Z" />
<ellipse class="k w" cx="914.5" cy="638.5" rx="53" ry="30.6" transform="rotate(-60 914.5 638.5)" />
<path class="t" d="M932.8,664.2 L930.1,667.4 L927.2,670.5 L924.2,673.3 L921.2,675.8 L918.1,678 L915,680 L911.9,681.6 L908.8,683 L905.8,683.9 L902.8,684.6 L899.9,684.8 L897.2,684.8 L894.5,684.4 L892.1,683.6 L889.8,682.5 L887.7,681.1 L885.8,679.3 L884.1,677.2 L882.7,674.9 L881.5,672.2 L880.5,669.4 L879.9,666.2 L879.5,662.9 L879.3,659.4 L879.5,655.7 L879.9,651.9 L880.5,648 L881.5,644.1 L882.7,640.1 L884.1,636 L885.8,632 L887.7,628.1 L889.8,624.2 L892.1,620.5 L894.5,616.9 L897.2,613.4 L899.9,610.2 L902.8,607.1 L905.8,604.3 L908.8,601.8 L911.9,599.6 L915,597.6 L918.1,596 L921.2,594.6 L924.2,593.7 L927.2,593 L930.1,592.8 L932.8,592.8" />
<ellipse class="k" cx="916.2" cy="639.3" rx="44.5" ry="25.7" transform="rotate(-60 916.2 639.3)" />
<path class="g" d="M913.3,603.3 C914,605.5 917.5,611.7 917.5,616.7 C917.5,621.7 916.1,627.8 913.3,633.3 C910.5,638.8 905.5,646.1 900.8,650 C896.1,653.9 887.6,655.6 885,656.7" style="stroke:#777"/>
</g>
<!-- 0203 door ring -->
<g id="p0203">
<path class="k w" d="M1014.2,681.7 L1012.7,685.2 L1011,688.7 L1009.2,692.1 L1007.2,695.5 L1005.2,698.8 L1003,702 L1000.8,705.1 L998.4,708.1 L996,711 L993.5,713.8 L991,716.4 L988.4,718.9 L985.7,721.2 L983,723.4 L980.3,725.4 L977.5,727.2 L974.8,728.9 L972.1,730.3 L969.3,731.6 L966.6,732.7 L963.9,733.5 L961.3,734.2 L958.7,734.6 L956.2,734.9 L953.7,734.9 L951.3,734.7 L949,734.4 L946.8,733.8 L944.7,733 L942.7,732 L940.8,730.8 L939,729.4 L937.4,727.8 L935.8,726 L934.5,724.1 L933.2,721.9 L932.1,719.7 L931.2,717.2 L930.4,714.6 L929.8,711.9 L929.3,709 L929,706.1 L928.9,703 L928.9,699.8 L929.1,696.5 L929.4,693.2 L929.9,689.8 L930.6,686.3 L931.4,682.8 L932.4,679.3 L933.5,675.8 L934.8,672.2 L936.2,668.7 L937.7,665.2 L939.4,661.7 L941.2,658.3 L943.2,654.9 L945.2,651.6 L947.3,648.4 L949.6,645.2 L951.9,642.2 L954.3,639.3 L956.8,636.5 L959.3,633.9 L961.9,631.4 L964.6,629 L967.3,626.8 L970,624.8 L972.7,623 L975.5,621.3 L978.2,619.8 L981,618.5 L983.7,617.4 L986.4,616.6 L989,615.9 L991.6,615.4 L994.1,615.1 L996.6,615.1 L999,615.2 L1001.3,615.6 L1003.6,616.2 L1005.7,616.9 L1007.7,617.9 L1009.6,619.1 L1011.4,620.5 L1013.1,622 L1014.6,623.8 L1016,625.7 L1017.2,627.8 L1018.3,630.1 L1020.8,628.3 L1015.8,633.3 C1019,640 1020.5,650 1020.8,663.3 C1020.5,670 1019.5,675 1018.3,678.3 L1015,680 L1019,681 Z" />
<path class="t" d="M1000,707.8 L997.4,710.9 L994.6,713.9 L991.9,716.7 L989,719.3 L986.1,721.8 L983.2,724 L980.2,726 L977.2,727.8 L974.3,729.3 L971.3,730.6 L968.4,731.7 L965.5,732.5 L962.7,733.1 L959.9,733.4 L957.3,733.4 L954.7,733.2 L952.2,732.7 L949.8,732 L947.6,731 L945.5,729.8 L943.6,728.3 L941.8,726.6 L940.2,724.7 L938.7,722.5 L937.4,720.2 L936.3,717.6 L935.4,714.9 L934.7,711.9 L934.2,708.9 L933.9,705.6 L933.7,702.3 L933.8,698.8 L934.1,695.2 L934.6,691.6 L935.2,687.8 L936.1,684 L937.2,680.2 L938.4,676.4 L939.8,672.6 L941.4,668.7 L943.2,665 L945.1,661.2 L947.1,657.6 L949.3,654 L951.7,650.5 L954.1,647.1 L956.7,643.9 L959.3,640.8 L962.1,637.9 L964.9,635.2 L967.8,632.6 L970.7,630.3 L973.6,628.1 L976.6,626.2 L979.6,624.5 L982.5,623 L985.5,621.8 L988.4,620.8 L991.2,620.1 L994,619.6 L996.8,619.4 L999.4,619.4 L1002,619.7 L1004.4,620.3 L1006.7,621.1 L1008.9,622.2 L1010.9,623.5 L1012.8,625 L1014.6,626.8 L1016.1,628.8" />
<path class="t" d="M1015,635 C1015.3,638.3 1016.7,648.3 1016.7,655 C1016.7,661.7 1016.1,668.8 1015,675 C1013.9,681.2 1010.8,689.2 1010,692" />
<ellipse class="k" cx="977.3" cy="673.8" rx="46.8" ry="27" transform="rotate(-60 977.3 673.8)" />
<path class="k" d="M989.1,706.9 L987.7,708.1 L986.3,709.3 L984.8,710.4 L983.4,711.4 L981.9,712.3 L980.4,713.2 L979,714 L977.5,714.7 L976.1,715.3 L974.6,715.9 L973.2,716.3 L971.8,716.7 L970.4,717 L969,717.2 L967.7,717.4 L966.3,717.4 L965,717.3 L963.8,717.2 L962.6,717 L961.4,716.7 L960.2,716.3 L959.1,715.8 L958.1,715.3 L957,714.6 L956.1,713.9 L955.2,713.1 L954.3,712.3 L953.5,711.3 L952.8,710.3 L952.1,709.2 L951.4,708 L950.9,706.8 L950.4,705.5 L949.9,704.2 L949.5,702.8 L949.2,701.3 L949,699.8 L948.8,698.2 L948.6,696.6 L948.6,694.9 L948.6,693.2 L948.7,691.5 L948.8,689.7 L949,687.9 L949.3,686.1 L949.7,684.3 L950.1,682.4 L950.5,680.6" />
<path class="m" d="M1019,681 L1016.7,686.7" />
</g>
<!-- 0201 0202 0212 0213 0214 -->
<g id="small_right">
<path class="m" d="M972.8,454.5 L972.8,470.3" style="stroke-width:3.3;stroke:#2a2a2a"/>
<path class="m" d="M972.8,455.0 L972.8,469.8" style="stroke-width:0.7;stroke:#888"/>
<path class="m" d="M1038.3,590.5 L1038.3,603" style="stroke-width:3.3;stroke:#2a2a2a"/>
<path class="m" d="M1038.3,591.0 L1038.3,602.5" style="stroke-width:0.7;stroke:#888"/>
<path class="m" d="M1038.3,694 L1038.3,707" style="stroke-width:3.3;stroke:#2a2a2a"/>
<path class="m" d="M1038.3,694.5 L1038.3,706.5" style="stroke-width:0.7;stroke:#888"/>
<path class="k w" d="M1035.8,628.3 L1048.3,618.7 Q1054,626 1055,635 Q1056.5,645 1055.8,655 Q1054,667 1049.2,675.8 L1037.5,674.2 Q1042,664 1044.2,653.3 Q1045,647 1043.3,641.7 Q1040,634 1035.8,628.3 Z" />
<path class="m" d="M1037.5,674.2 L1040,671 Q1046,660 1046.5,648 Q1046,638 1038.5,628.5 M1040,671 L1049.2,675.8" />
<path class="t" d="M1041,637.5 L1043,636.5 M1043.5,642 L1045.5,641 M1044,647 L1046,646.5" />
<path class="k w" d="M926.7,486.7 L930,485 L947.8,490.6 L951.7,487.8 L953.3,490 L953.3,496.1 L942.2,499.4 L939.4,497.8 L939.4,494.4 L930.6,490.6 L930,493.3 L927.2,490 Z" />
<path class="m" d="M930.6,490.6 L931.5,487.5 L947,493.3 L951.5,490.5 M947,493.3 L942.2,495.5 L939.4,494.4 M942.2,495.5 L942.2,499.4" />
<path class="k w" d="M965,497.8 L970.6,493.3 L974.4,492.8 L975.6,502.2 L975.6,520 L973.3,520.6 L965,515.6 L966.7,512.2 L966.7,502.2 Z" />
<path class="m" d="M970.6,495.6 L971.1,517.8 M965,497.8 L970.6,495.6 L974.4,492.8 M966.7,512.2 L971,514" />
<path class="t" d="M992,510 Q994,507.5 996,509 Q996,512 993.5,513.5 Q992,512 992,510 M996,509 L1000,508 Q1001,513 998,517 Q996,520 993,520 M992.5,520 Q994.5,518.5 996,520.5 Q995.5,523.5 993.5,524 Q992,522.5 992.5,520 M996,520.5 Q998,524 996.5,528" style="stroke:#222;stroke-width:0.8"/>
</g>
<!-- LEADERS -->
<g id="leaders" class="ld">
<path d="M580 234.7 L493 224 M580 234.7 L357 306"/>
<path d="M724.2 325 L721.7 378.3 M724.2 325 L577.8 465.3"/>
<path d="M808.3 400 L758.3 416.7"/>
<path d="M986.7 443.3 L976.7 453.9"/>
<path d="M912.8 481.1 L923.9 487.2"/>
<path d="M947.8 523.9 L960.6 513.3"/>
<path d="M457.2 602.2 L460.6 649.4 L509.5 598.7"/>
<path d="M668.3 566.7 L648.3 656.7"/>
<path d="M578.3 613.3 L575 691.7"/>
<path d="M321.7 677.3 L351.7 731.7 L386.7 713.3"/>
<path d="M789.2 464.2 L680.8 497.5 M789.2 464.2 L680.8 586.7"/>
<path d="M795 496.7 L782.5 513.3"/>
</g>
<!-- LABELS -->
<g id="labels" class="lb">
<text x="165" y="129.5">0225</text>
<text x="467" y="116.5">0224</text>
<text x="98" y="214.5">0226</text>
<text x="589" y="241">0223</text>
<text x="21.5" y="285.5">0229</text>
<text x="568" y="292.7">0221</text>
<text x="568" y="332.7">0222</text>
<text x="716.5" y="316">0211</text>
<text x="612.5" y="359.3">0219</text>
<text x="171.5" y="395">0227</text>
<text x="530.5" y="395.3">0220</text>
<text x="817.3" y="401">0210</text>
<text x="971.5" y="437.7">0201</text>
<text x="795" y="466">0207</text>
<text x="885" y="472.7">0214</text>
<text x="24" y="473.5">0230</text>
<text x="789" y="492.3">0206</text>
<text x="841.7" y="518.3">0205</text>
<text x="1006" y="523.3">0212</text>
<text x="922.7" y="540.7">0213</text>
<text x="99.3" y="550.7">0228</text>
<text x="920" y="582.7">0204</text>
<text x="1046.7" y="599.3">0201</text>
<text x="981.7" y="604">0203</text>
<text x="510" y="623.3">0215</text>
<text x="403.3" y="631">0216</text>
<text x="1064.3" y="652.3">0202</text>
<text x="449.3" y="671">0217</text>
<text x="622.7" y="672.7">0208</text>
<text x="556.7" y="705">0209</text>
<text x="1048.3" y="705.3">0201</text>
<text x="323.3" y="748.3">0218</text>
<text x="11.5" y="810.7" font-size="16.9">58300000111321 aet 000 b 2/4</text>
<text x="888.3" y="818.7" font-size="10.3">© Robert Bosch Hausgeräte GmbH</text>
</g>
</svg>
</body>
</html>
